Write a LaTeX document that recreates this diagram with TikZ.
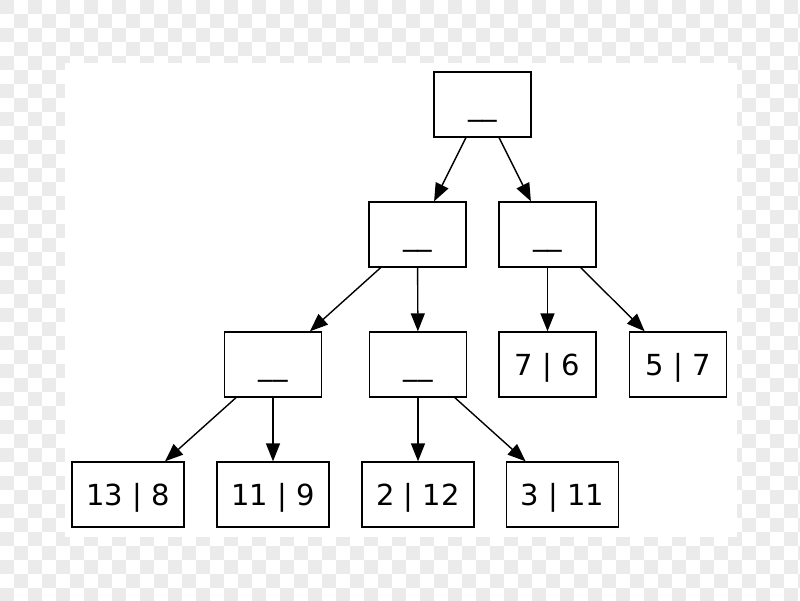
\documentclass[tikz,border=0pt]{standalone}
\usepackage{fontspec}
\setmainfont{DejaVu Sans}
\usetikzlibrary{arrows.meta}
\definecolor{chk}{HTML}{EBEBEB}
\begin{document}
\begin{tikzpicture}[x=1pt,y=-1pt,
  box/.style={draw=black,line width=1.4pt,fill=white,minimum width=97pt,minimum height=65pt,inner sep=0pt,text height=21pt,text depth=0pt,font=\fontsize{29}{34}\selectfont},
  leaf/.style={box,minimum width=112pt},
  edge/.style={line width=1.4pt,-{Triangle[length=18pt,width=14pt]}}]
\useasboundingbox (0,0) rectangle (800,600);
\fill[white] (0,0) rectangle (800,600);
\foreach \i in {0,...,57}{
  \foreach \j in {0,...,42}{
    \pgfmathtruncatemacro{\chkpar}{mod(\i+\j,2)}
    \ifnum\chkpar=0 \fill[chk] (\i*14,\j*14) rectangle ++(14,14);\fi
  }
}
\fill[white] (65,63) rectangle (737,537);
\node[box] (r) at (482.5,104.5) {\_\_};
\node[box] (a) at (417.5,234.5) {\_\_};
\node[box] (b) at (547.5,234.5) {\_\_};
\node[box] (c) at (273,364.5) {\_\_};
\node[box] (d) at (418,364.5) {\_\_};
\node[box] (e) at (547.5,364.5) {7 | 6};
\node[box] (f) at (678,364.5) {5 | 7};
\node[leaf] (g) at (128,494.5) {13 | 8};
\node[leaf] (h) at (273,494.5) {11 | 9};
\node[leaf] (i) at (418,494.5) {2 | 12};
\node[leaf] (j) at (562.5,494.5) {3 | 11};
\draw[edge] (r) -- (a);
\draw[edge] (r) -- (b);
\draw[edge] (a) -- (c);
\draw[edge] (a) -- (d);
\draw[edge] (b) -- (e);
\draw[edge] (b) -- (f);
\draw[edge] (c) -- (g);
\draw[edge] (c) -- (h);
\draw[edge] (d) -- (i);
\draw[edge] (d) -- (j);
\end{tikzpicture}
\end{document}
